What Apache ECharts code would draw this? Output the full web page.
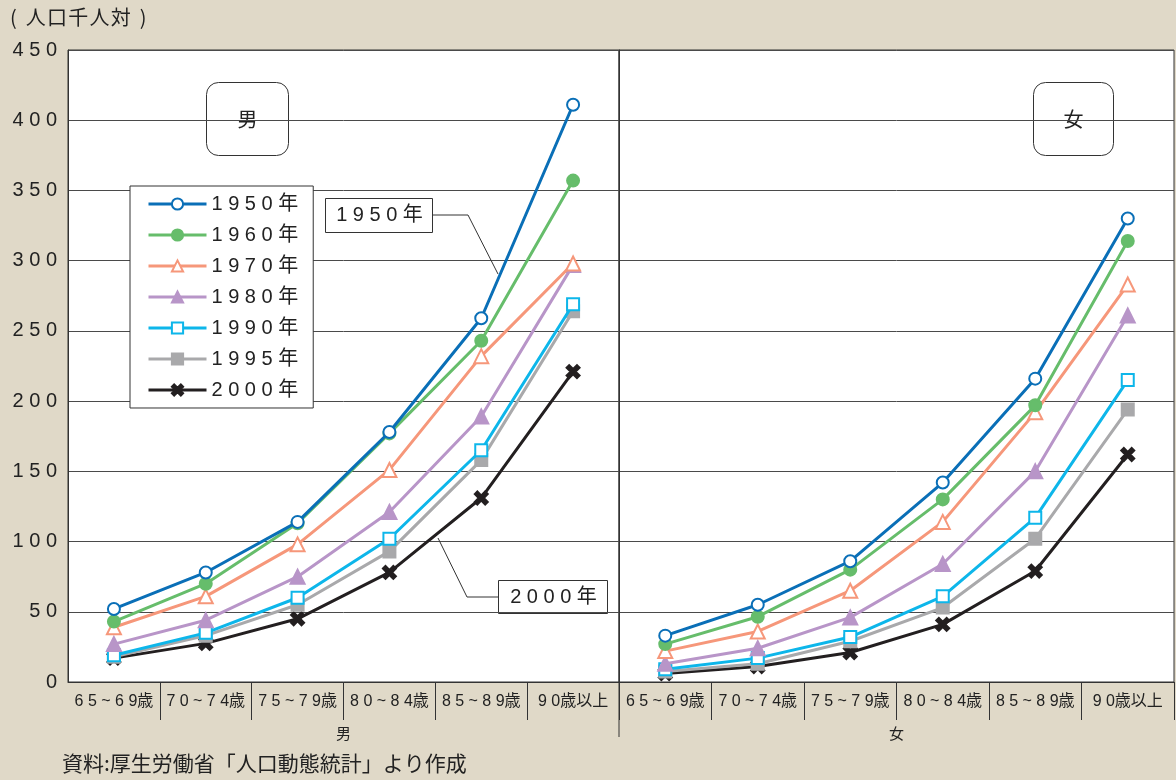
<!DOCTYPE html>
<html>
<head>
<meta charset="utf-8">
<script src="https://cdn.jsdelivr.net/npm/echarts@6/dist/echarts.min.js"></script>
<style>
  html, body { margin: 0; padding: 0; background: #e0d9c8; }
  #main { width: 1176px; height: 780px; }
</style>
</head>
<body>
<div id="main"></div>
<script>
var categories = ['65~69歳', '70~74歳', '75~79歳', '80~84歳', '85~89歳', '90歳以上'];
var years = ['1950年', '1960年', '1970年', '1980年', '1990年', '1995年', '2000年'];
var yTicks = [0, 50, 100, 150, 200, 250, 300, 350, 400, 450];

// 男
var male1950 = [52, 78, 114, 178, 259, 411];
var male1960 = [43, 70, 113, 177, 243, 357];
var male1970 = [39, 61, 98, 151, 232, 298];
var male1980 = [27, 44, 75, 121, 189, 297];
var male1990 = [19, 35, 60, 102, 165, 269];
var male1995 = [18, 33, 55, 93, 158, 264];
var male2000 = [17, 27.5, 45, 78, 131, 221];

// 女
var female1950 = [33, 55, 86, 142, 216, 330];
var female1960 = [27, 46.5, 80, 130, 197, 314];
var female1970 = [22, 36, 65, 114, 192, 283];
var female1980 = [13, 24, 46, 84, 150, 261];
var female1990 = [9, 17, 32, 61, 117, 215];
var female1995 = [7.5, 13, 29, 53, 102, 194];
var female2000 = [6, 11, 21, 41, 79, 162];

var maleData = [male1950, male1960, male1970, male1980, male1990, male1995, male2000];
var femaleData = [female1950, female1960, female1970, female1980, female1990, female1995, female2000];

var colors = ['#0a6fb7', '#66bd6b', '#f6977a', '#b895c8', '#0db6ea', '#a9a9ab', '#231f20'];
var crossPath = 'path://M0,2L2,0L5,3L8,0L10,2L7,5L10,8L8,10L5,7L2,10L0,8L3,5Z';
var symbols = ['emptyCircle', 'circle', 'emptyTriangle', 'triangle', 'emptyRect', 'rect', crossPath];
var symbolSizes = [12, 12, 14, 14, 12, 12, 13];

var FONT = '"Liberation Sans", "Noto Sans CJK JP", sans-serif';
var CJK = '"Noto Sans CJK JP", sans-serif';

function spaced(s) {
    return String(s).split('').join(' ');
}

var myChart = echarts.init(document.getElementById('main'));

var series = [];
function addSeries(dataList, idx) {
    for (var i = 0; i < dataList.length; i++) {
        series.push({
            name: years[i],
            type: 'line',
            xAxisIndex: idx,
            yAxisIndex: idx,
            data: dataList[i],
            symbol: symbols[i],
            symbolSize: symbolSizes[i],
            showAllSymbol: true,
            lineStyle: { color: colors[i], width: 3 },
            itemStyle: { color: colors[i], borderColor: colors[i], borderWidth: 2 },
            z: 10 - i
        });
    }
}
addSeries(maleData, 0);
addSeries(femaleData, 1);

function xAxisOf(idx, name) {
    return {
        type: 'category',
        gridIndex: idx,
        data: categories,
        boundaryGap: true,
        name: name,
        nameLocation: 'middle',
        nameGap: 44,
        nameTextStyle: { fontFamily: CJK, fontSize: 15, color: '#222' },
        axisLine: { lineStyle: { color: '#333', width: 1 } },
        axisTick: {
            show: true,
            length: 38,
            interval: function (index) { return index > 0; },
            lineStyle: { color: '#333', width: 1 }
        },
        axisLabel: {
            interval: 0,
            margin: 12,
            fontFamily: FONT,
            fontSize: 16,
            color: '#222',
            formatter: function (v) { return v.replace(/([0-9~])(?=[0-9~])/g, '$1 '); }
        },
        splitLine: { show: false }
    };
}

function yAxisOf(idx, showLabel) {
    return {
        type: 'value',
        gridIndex: idx,
        min: yTicks[0],
        max: yTicks[yTicks.length - 1],
        interval: 50,
        axisLine: { show: true, lineStyle: { color: '#333', width: 1 } },
        axisTick: { show: false },
        axisLabel: {
            show: showLabel,
            margin: 11,
            fontFamily: FONT,
            fontSize: 20,
            color: '#222',
            formatter: function (v) { return spaced(v); }
        },
        splitLine: { show: true, lineStyle: { color: '#4a4a4a', width: 1 } }
    };
}

var option = {
    backgroundColor: '#e0d9c8',
    animation: false,
    grid: [
        { left: 68, top: 50, width: 551, height: 632, show: true, backgroundColor: '#fff', borderColor: '#333', borderWidth: 1 },
        { left: 619, top: 50, width: 555, height: 632, show: true, backgroundColor: '#fff', borderColor: '#333', borderWidth: 1 }
    ],
    legend: {
        data: years,
        orient: 'vertical',
        left: 130,
        top: 186,
        padding: [8, 15, 8, 17],
        itemWidth: 58,
        itemHeight: 14,
        itemGap: 11,
        backgroundColor: '#fff',
        borderColor: '#333',
        borderWidth: 1,
        borderRadius: 0,
        lineStyle: { width: 3 },
        formatter: function (name) { return spaced(name); },
        textStyle: { fontFamily: FONT, fontSize: 20, color: '#222' }
    },
    xAxis: [xAxisOf(0, '男'), xAxisOf(1, '女')],
    yAxis: [yAxisOf(0, true), yAxisOf(1, false)],
    series: series,
    graphic: [
        {
            type: 'text', left: 10, top: 7,
            style: { text: '(  人\u200a口\u200a千\u200a人\u200a対  )', fontFamily: CJK, fontSize: 20, fill: '#222' }
        },
        {
            type: 'line', z: 100,
            shape: { x1: 619, y1: 682, x2: 619, y2: 737 },
            style: { stroke: '#333', lineWidth: 1 }
        },
        // 男 / 女 boxes
        {
            type: 'group', left: 206, top: 82, z: 100,
            children: [
                { type: 'rect', shape: { x: 0, y: 0, width: 82, height: 73, r: 12 }, style: { fill: '#fff', stroke: '#333', lineWidth: 1 } },
                { type: 'text', x: 41, y: 37, style: { text: '男', fontFamily: CJK, fontSize: 20, fill: '#222', align: 'center', verticalAlign: 'middle' } }
            ]
        },
        {
            type: 'group', left: 1033, top: 82, z: 100,
            children: [
                { type: 'rect', shape: { x: 0, y: 0, width: 80, height: 73, r: 12 }, style: { fill: '#fff', stroke: '#333', lineWidth: 1 } },
                { type: 'text', x: 40, y: 37, style: { text: '女', fontFamily: CJK, fontSize: 20, fill: '#222', align: 'center', verticalAlign: 'middle' } }
            ]
        },
        // 1950年 callout
        {
            type: 'polyline', z: 100,
            shape: { points: [[432, 215], [468, 215], [498, 274]] },
            style: { stroke: '#333', lineWidth: 1, fill: null }
        },
        {
            type: 'group', left: 325, top: 198, z: 100,
            children: [
                { type: 'rect', shape: { x: 0, y: 0, width: 107, height: 34 }, style: { fill: '#fff', stroke: '#333', lineWidth: 1 } },
                { type: 'text', x: 54, y: 17, style: { text: spaced('1950年'), fontFamily: FONT, fontSize: 20, fill: '#222', align: 'center', verticalAlign: 'middle' } }
            ]
        },
        // 2000年 callout
        {
            type: 'polyline', z: 100,
            shape: { points: [[498, 597], [467, 597], [438, 538]] },
            style: { stroke: '#333', lineWidth: 1, fill: null }
        },
        {
            type: 'group', left: 498, top: 580, z: 100,
            children: [
                { type: 'rect', shape: { x: 0, y: 0, width: 109, height: 33 }, style: { fill: '#fff', stroke: '#333', lineWidth: 1 } },
                { type: 'text', x: 55, y: 17, style: { text: spaced('2000年'), fontFamily: FONT, fontSize: 20, fill: '#222', align: 'center', verticalAlign: 'middle' } }
            ]
        },
        {
            type: 'text', left: 62, top: 753,
            style: { text: '資料:厚生労働省「人口動態統計」より作成', fontFamily: CJK, fontSize: 21, fill: '#222' }
        }
    ]
};
myChart.setOption(option);
window.onresize = myChart.resize;
</script>
</body>
</html>
